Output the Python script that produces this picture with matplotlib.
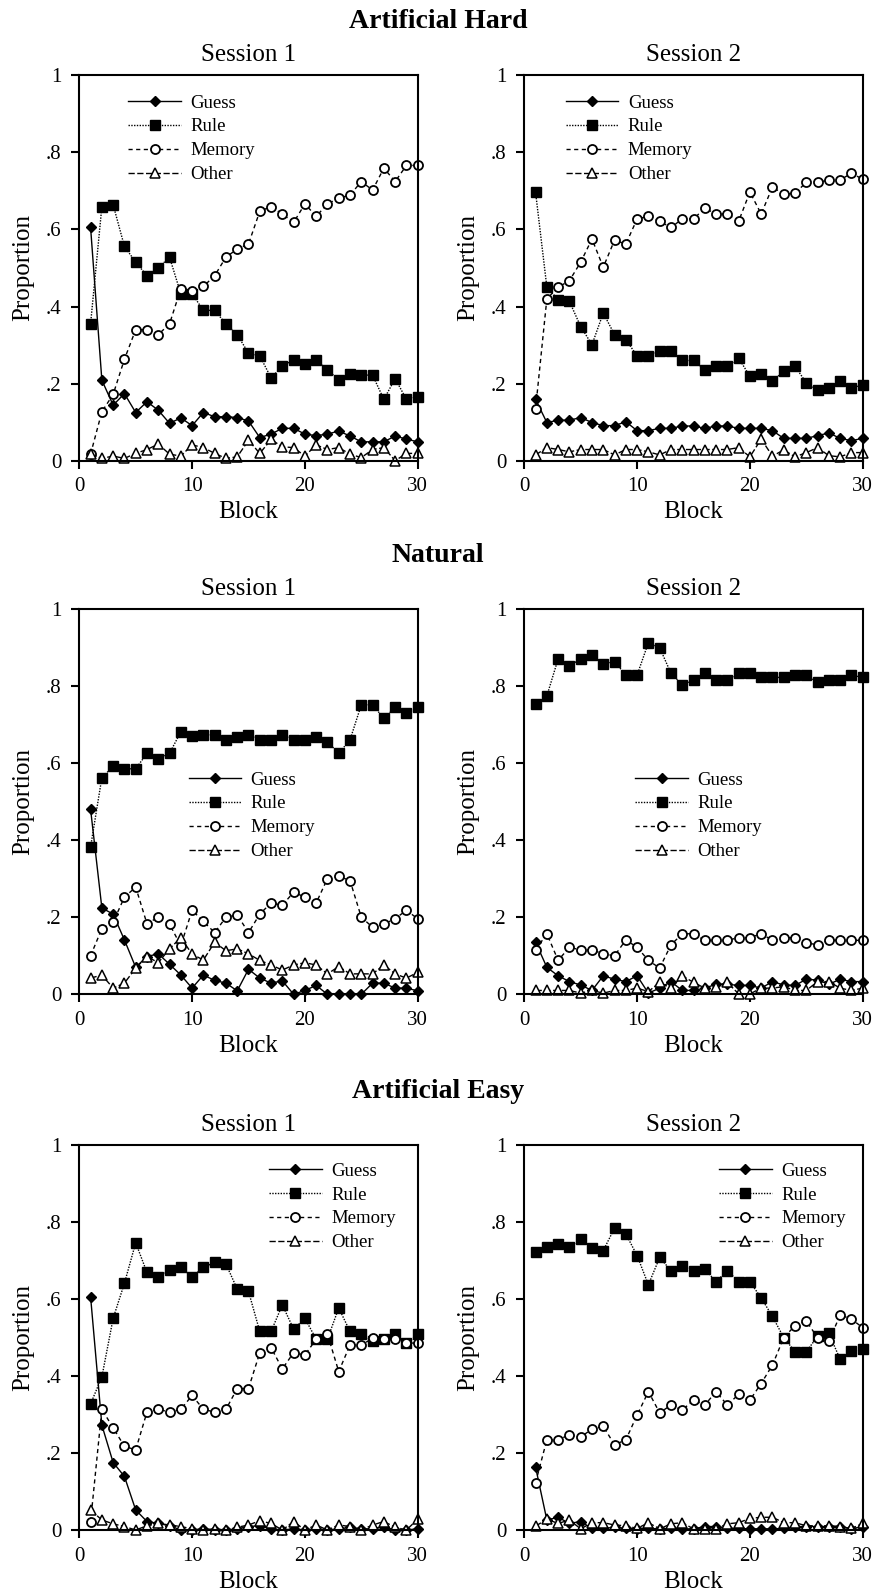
import matplotlib
matplotlib.use('Agg')
import matplotlib.pyplot as plt

# -------------------------- 字体设置 --------------------------
plt.rcParams['font.family'] = ['Liberation Serif', 'DejaVu Serif']
plt.rcParams['axes.linewidth'] = 1.5

# -------------------------- 数据 --------------------------
blocks = list(range(1, 31))
series_names = ['Guess', 'Rule', 'Memory', 'Other']
section_titles = ['Artificial Hard', 'Natural', 'Artificial Easy']
session_titles = ['Session 1', 'Session 2']
y_ticks = [0, 0.2, 0.4, 0.6, 0.8, 1.0]
y_tick_labels = ['0', '.2', '.4', '.6', '.8', '1']
x_ticks = [0, 10, 20, 30]

hard_s1_guess = [0.605, 0.209, 0.144, 0.174, 0.125, 0.153, 0.131, 0.097, 0.111, 0.091, 0.125, 0.114, 0.114, 0.112, 0.103,
                 0.060, 0.069, 0.084, 0.084, 0.069, 0.065, 0.069, 0.077, 0.064, 0.049, 0.049, 0.049, 0.064, 0.056, 0.049]
hard_s1_rule = [0.355, 0.659, 0.664, 0.556, 0.515, 0.480, 0.500, 0.528, 0.433, 0.433, 0.390, 0.390, 0.355, 0.327, 0.279,
                0.272, 0.215, 0.245, 0.262, 0.250, 0.262, 0.236, 0.209, 0.226, 0.222, 0.222, 0.159, 0.213, 0.159, 0.166]
hard_s1_memory = [0.017, 0.127, 0.172, 0.263, 0.340, 0.340, 0.327, 0.355, 0.446, 0.440, 0.452, 0.480, 0.528, 0.549, 0.562,
                  0.647, 0.659, 0.640, 0.618, 0.666, 0.634, 0.666, 0.681, 0.689, 0.724, 0.702, 0.759, 0.724, 0.766, 0.766]
hard_s1_other = [0.017, 0.006, 0.012, 0.006, 0.019, 0.029, 0.043, 0.017, 0.012, 0.041, 0.034, 0.019, 0.006, 0.010, 0.053,
                 0.019, 0.055, 0.036, 0.034, 0.012, 0.041, 0.029, 0.034, 0.017, 0.008, 0.029, 0.034, 0.000, 0.019, 0.019]

hard_s2_guess = [0.159, 0.099, 0.105, 0.105, 0.112, 0.099, 0.091, 0.091, 0.101, 0.078, 0.078, 0.084, 0.084, 0.090, 0.090,
                 0.084, 0.090, 0.090, 0.084, 0.084, 0.084, 0.078, 0.058, 0.058, 0.058, 0.065, 0.072, 0.058, 0.052, 0.058]
hard_s2_rule = [0.696, 0.450, 0.418, 0.413, 0.348, 0.301, 0.383, 0.327, 0.314, 0.272, 0.272, 0.284, 0.284, 0.260, 0.260,
                0.236, 0.245, 0.245, 0.266, 0.219, 0.224, 0.207, 0.232, 0.245, 0.202, 0.183, 0.189, 0.207, 0.189, 0.196]
hard_s2_memory = [0.135, 0.420, 0.450, 0.467, 0.515, 0.575, 0.502, 0.572, 0.562, 0.627, 0.634, 0.621, 0.605, 0.627, 0.627,
                  0.655, 0.640, 0.640, 0.621, 0.697, 0.640, 0.710, 0.691, 0.694, 0.722, 0.722, 0.728, 0.728, 0.746, 0.730]
hard_s2_other = [0.015, 0.034, 0.029, 0.023, 0.029, 0.029, 0.029, 0.015, 0.029, 0.029, 0.023, 0.015, 0.029, 0.029, 0.029,
                 0.029, 0.029, 0.029, 0.034, 0.010, 0.056, 0.012, 0.028, 0.010, 0.021, 0.034, 0.013, 0.010, 0.021, 0.021]

natural_s1_guess = [0.480, 0.224, 0.208, 0.141, 0.070, 0.098, 0.105, 0.078, 0.050, 0.016, 0.050, 0.036, 0.029, 0.009, 0.065,
                    0.042, 0.029, 0.035, 0.000, 0.010, 0.023, 0.000, 0.000, 0.000, 0.000, 0.029, 0.029, 0.016, 0.016, 0.009]
natural_s1_rule = [0.382, 0.562, 0.591, 0.585, 0.585, 0.625, 0.611, 0.625, 0.681, 0.669, 0.673, 0.673, 0.660, 0.668, 0.673,
                   0.660, 0.660, 0.673, 0.660, 0.660, 0.668, 0.655, 0.625, 0.660, 0.751, 0.751, 0.716, 0.744, 0.729, 0.744]
natural_s1_memory = [0.100, 0.170, 0.187, 0.252, 0.278, 0.183, 0.200, 0.182, 0.126, 0.218, 0.189, 0.160, 0.200, 0.206, 0.160,
                     0.208, 0.237, 0.231, 0.265, 0.252, 0.237, 0.300, 0.306, 0.295, 0.200, 0.174, 0.182, 0.196, 0.218, 0.196]
natural_s1_other = [0.042, 0.050, 0.016, 0.029, 0.068, 0.098, 0.082, 0.118, 0.147, 0.104, 0.089, 0.135, 0.113, 0.118, 0.105,
                    0.088, 0.076, 0.063, 0.076, 0.082, 0.076, 0.053, 0.072, 0.053, 0.053, 0.053, 0.076, 0.053, 0.042, 0.057]

natural_s2_guess = [0.135, 0.070, 0.048, 0.033, 0.024, 0.010, 0.048, 0.039, 0.033, 0.048, 0.003, 0.016, 0.033, 0.010, 0.010,
                    0.016, 0.026, 0.026, 0.023, 0.023, 0.016, 0.033, 0.024, 0.023, 0.039, 0.037, 0.026, 0.039, 0.033, 0.033]
natural_s2_rule = [0.753, 0.774, 0.870, 0.852, 0.870, 0.879, 0.857, 0.863, 0.828, 0.828, 0.912, 0.899, 0.833, 0.803, 0.815,
                   0.833, 0.815, 0.815, 0.833, 0.833, 0.822, 0.822, 0.822, 0.828, 0.828, 0.809, 0.815, 0.815, 0.828, 0.822]
natural_s2_memory = [0.115, 0.157, 0.088, 0.122, 0.115, 0.115, 0.105, 0.100, 0.141, 0.122, 0.088, 0.068, 0.128, 0.157, 0.157,
                     0.140, 0.140, 0.140, 0.147, 0.147, 0.157, 0.140, 0.147, 0.147, 0.134, 0.128, 0.140, 0.140, 0.140, 0.140]
natural_s2_other = [0.010, 0.010, 0.010, 0.010, 0.003, 0.010, 0.003, 0.010, 0.010, 0.016, 0.007, 0.031, 0.016, 0.048, 0.031,
                    0.016, 0.020, 0.031, 0.001, 0.001, 0.016, 0.016, 0.020, 0.010, 0.010, 0.033, 0.033, 0.016, 0.010, 0.016]

easy_s1_guess = [0.605, 0.272, 0.175, 0.139, 0.052, 0.022, 0.017, 0.011, 0.000, 0.000, 0.003, 0.000, 0.000, 0.003, 0.009,
                 0.011, 0.003, 0.000, 0.003, 0.000, 0.003, 0.000, 0.003, 0.007, 0.003, 0.003, 0.009, 0.000, 0.000, 0.003]
easy_s1_rule = [0.327, 0.397, 0.549, 0.640, 0.745, 0.668, 0.655, 0.674, 0.681, 0.657, 0.681, 0.694, 0.690, 0.625, 0.619,
                0.515, 0.515, 0.584, 0.521, 0.549, 0.495, 0.495, 0.576, 0.515, 0.508, 0.489, 0.495, 0.508, 0.484, 0.508]
easy_s1_memory = [0.022, 0.313, 0.265, 0.217, 0.208, 0.306, 0.313, 0.306, 0.313, 0.349, 0.313, 0.306, 0.313, 0.367, 0.367,
                  0.460, 0.473, 0.418, 0.460, 0.454, 0.495, 0.508, 0.411, 0.480, 0.480, 0.497, 0.495, 0.495, 0.486, 0.484]
easy_s1_other = [0.052, 0.026, 0.016, 0.009, 0.000, 0.011, 0.017, 0.013, 0.009, 0.003, 0.000, 0.003, 0.000, 0.007, 0.013,
                 0.024, 0.017, 0.000, 0.022, 0.000, 0.013, 0.000, 0.013, 0.009, 0.000, 0.013, 0.022, 0.007, 0.000, 0.028]

easy_s2_guess = [0.163, 0.026, 0.033, 0.017, 0.022, 0.004, 0.004, 0.007, 0.004, 0.003, 0.004, 0.003, 0.004, 0.003, 0.003,
                 0.009, 0.009, 0.004, 0.004, 0.003, 0.003, 0.003, 0.004, 0.009, 0.009, 0.009, 0.009, 0.009, 0.003, 0.009]
easy_s2_rule = [0.720, 0.733, 0.742, 0.733, 0.755, 0.732, 0.725, 0.783, 0.768, 0.712, 0.636, 0.707, 0.673, 0.684, 0.673,
                0.677, 0.644, 0.673, 0.644, 0.644, 0.602, 0.554, 0.499, 0.463, 0.463, 0.502, 0.510, 0.443, 0.464, 0.470]
easy_s2_memory = [0.123, 0.234, 0.234, 0.247, 0.241, 0.262, 0.269, 0.221, 0.234, 0.298, 0.359, 0.304, 0.324, 0.311, 0.337,
                  0.324, 0.359, 0.324, 0.352, 0.337, 0.380, 0.428, 0.499, 0.530, 0.542, 0.499, 0.489, 0.558, 0.547, 0.525]
easy_s2_other = [0.010, 0.028, 0.017, 0.026, 0.003, 0.019, 0.019, 0.013, 0.011, 0.004, 0.019, 0.003, 0.016, 0.019, 0.003,
                 0.003, 0.003, 0.016, 0.019, 0.030, 0.033, 0.033, 0.019, 0.019, 0.011, 0.011, 0.011, 0.009, 0.004, 0.017]

panel_data = [
    [[hard_s1_guess, hard_s1_rule, hard_s1_memory, hard_s1_other],
     [hard_s2_guess, hard_s2_rule, hard_s2_memory, hard_s2_other]],
    [[natural_s1_guess, natural_s1_rule, natural_s1_memory, natural_s1_other],
     [natural_s2_guess, natural_s2_rule, natural_s2_memory, natural_s2_other]],
    [[easy_s1_guess, easy_s1_rule, easy_s1_memory, easy_s1_other],
     [easy_s2_guess, easy_s2_rule, easy_s2_memory, easy_s2_other]],
]

# -------------------------- 样式 --------------------------
line_styles = [
    dict(linestyle='-', marker='D', markersize=5.5, markerfacecolor='black'),
    dict(linestyle=(0, (1, 1)), marker='s', markersize=7, markerfacecolor='black'),
    dict(linestyle=(0, (3, 2.5)), marker='o', markersize=6.5, markerfacecolor='white', markeredgewidth=1.3),
    dict(linestyle=(0, (4.5, 1.8)), marker='^', markersize=6.5, markerfacecolor='white', markeredgewidth=1.1),
]

# 画布位置（像素换算成比例）
W, H = 876, 1593
col_left = [79.3 / W, 524.3 / W]
ax_w = 338.4 / W
row_bottom = [1 - 460.7 / H, 1 - 994.3 / H, 1 - 1530 / H]
ax_h = 385.5 / H
section_y = [1 - 21 / H, 1 - 556 / H, 1 - 1092 / H]

# 图例位置 (轴坐标)
legend_anchor = [
    [(0.145, 0.95), (0.123, 0.95)],
    [(0.323, 0.578), (0.328, 0.578)],
    [(0.561, 0.953), (0.576, 0.953)],
]

fig = plt.figure(figsize=(W / 100, H / 100), dpi=100)

for r in range(3):
    fig.text(0.5, section_y[r], section_titles[r], ha='center', va='center',
             fontsize=20, fontweight='bold')
    for c in range(2):
        ax = fig.add_axes([col_left[c], row_bottom[r], ax_w, ax_h])
        for name, values, st in zip(series_names, panel_data[r][c], line_styles):
            ax.plot(blocks, values, color='black', linewidth=1.0, markeredgecolor='black',
                    clip_on=False, label=name, **st)
        ax.set_xlim(0, 30)
        ax.set_ylim(0, 1)
        ax.set_xticks(x_ticks)
        ax.set_yticks(y_ticks)
        ax.set_yticklabels(y_tick_labels)
        ax.tick_params(axis='both', direction='out', length=6, width=1.5, labelsize=15)
        ax.tick_params(axis='y', pad=7)
        ax.tick_params(axis='x', pad=6)
        ax.set_xlabel('Block', fontsize=18, labelpad=3.5)
        ax.set_ylabel('Proportion', fontsize=18, labelpad=8)
        ax.set_title(session_titles[c], fontsize=18, pad=10)
        ax.legend(loc='upper left', bbox_to_anchor=legend_anchor[r][c], frameon=False,
                  fontsize=13.5, handlelength=2.8, handletextpad=0.5, labelspacing=0.36,
                  borderpad=0, borderaxespad=0)

plt.savefig('out.png', dpi=100)
